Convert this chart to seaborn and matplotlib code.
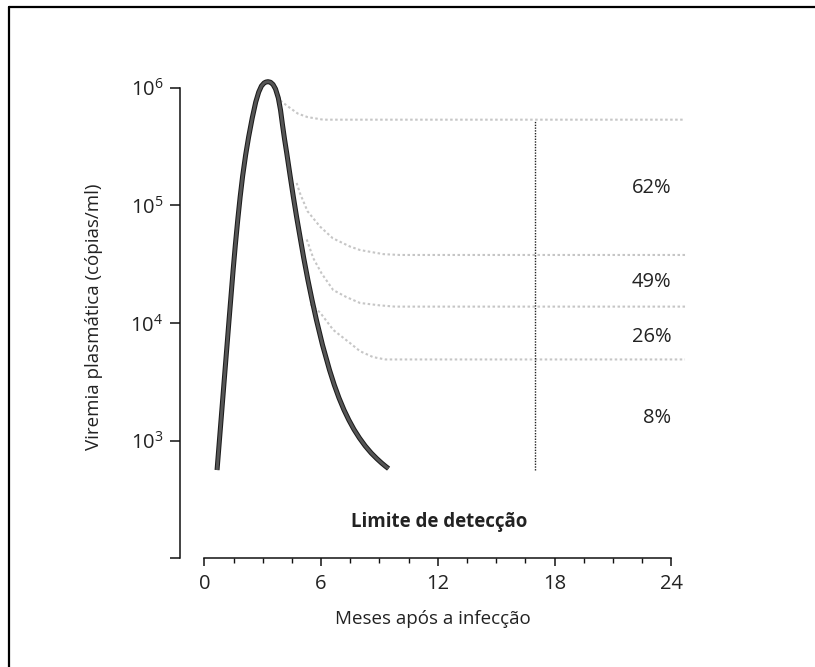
import numpy as np
import pandas as pd
import matplotlib
matplotlib.use("Agg")
import matplotlib.pyplot as plt
import matplotlib.patheffects as pe
from matplotlib.lines import Line2D
from matplotlib.ticker import FixedLocator, NullLocator
import seaborn as sns


# Primary infection peak (months, log10 copies/ml)
PEAK_MONTHS = [0.652, 0.858, 1.063, 1.269, 1.479, 1.592, 1.715, 1.839, 1.967, 2.121,
               2.275, 2.460, 2.640, 2.794, 2.933, 3.071, 3.169, 3.272, 3.400, 3.529,
               3.657, 3.801, 3.914, 4.016, 4.119, 4.232, 4.401, 4.571, 4.740, 4.915,
               5.105, 5.321, 5.532, 5.758, 6.071, 6.430, 6.677, 6.918, 7.175, 7.422,
               7.689, 7.966, 8.264, 8.572, 8.855, 9.106, 9.302, 9.466]
PEAK_LOG = [2.750, 3.176, 3.601, 4.026, 4.451, 4.663, 4.875, 5.071, 5.249, 5.428,
            5.581, 5.742, 5.878, 5.963, 6.014, 6.040, 6.048, 6.051, 6.046, 6.027,
            5.989, 5.912, 5.810, 5.683, 5.564, 5.445, 5.258, 5.074, 4.901, 4.734,
            4.553, 4.365, 4.196, 4.026, 3.813, 3.601, 3.473, 3.363, 3.261, 3.176,
            3.095, 3.023, 2.955, 2.895, 2.848, 2.810, 2.783, 2.762]

# Set-point curves (dotted gray)
SET_62_MONTHS = [3.9, 4.3, 4.8, 5.3, 6.1, 24.7]
SET_62_LOG = [5.89, 5.84, 5.78, 5.75, 5.728, 5.728]

SET_49_MONTHS = [4.74, 4.92, 5.3, 5.94, 6.6, 7.48, 8.0, 9.2, 10.05, 24.7]
SET_49_LOG = [5.19, 5.10, 4.95, 4.82, 4.72, 4.65, 4.62, 4.585, 4.578, 4.578]

SET_26_MONTHS = [5.26, 5.6, 6.03, 6.62, 7.3, 8.0, 9.0, 9.8, 24.7]
SET_26_LOG = [4.71, 4.55, 4.42, 4.28, 4.22, 4.17, 4.15, 4.139, 4.139]

SET_8_MONTHS = [5.45, 5.94, 6.63, 7.48, 8.0, 8.67, 9.3, 24.7]
SET_8_LOG = [4.16, 4.09, 3.94, 3.83, 3.76, 3.71, 3.69, 3.69]

PERCENT_LABELS = ["62%", "49%", "26%", "8%"]
PERCENT_LOG_Y = [5.145, 4.351, 3.884, 3.193]

# 17-month marker line
MARKER_MONTH = 17.0
MARKER_LOG_RANGE = [2.75, 5.725]

X_TICKS = [0, 6, 12, 18, 24]
Y_TICKS = [1e2, 1e3, 1e4, 1e5, 1e6]
Y_TICK_LABELS = ["", r"$\mathregular{10^3}$", r"$\mathregular{10^4}$",
                 r"$\mathregular{10^5}$", r"$\mathregular{10^6}$"]

TEXT_COLOR = "#222222"


def build_frame(months, log_values, name):
    return pd.DataFrame({
        "mes": months,
        "viremia": 10.0 ** np.asarray(log_values),
        "curva": name,
    })


def draw_chart():
    sns.set_theme(style="white")
    plt.rcParams["font.family"] = ["Open Sans", "DejaVu Sans"]

    fig = plt.figure(figsize=(8.15, 6.67), dpi=100)
    ax = fig.add_axes([0.2209, 0.1630, 0.6208, 0.7232])
    ax.set_yscale("log")

    # Set-point curves
    plateaus = pd.concat([
        build_frame(SET_62_MONTHS, SET_62_LOG, "62"),
        build_frame(SET_49_MONTHS, SET_49_LOG, "49"),
        build_frame(SET_26_MONTHS, SET_26_LOG, "26"),
        build_frame(SET_8_MONTHS, SET_8_LOG, "8"),
    ], ignore_index=True)
    sns.lineplot(data=plateaus, x="mes", y="viremia", units="curva",
                 estimator=None, sort=False, color="#c6c6c6", lw=1.5,
                 linestyle=(0, (1.2, 1.2)), ax=ax)

    # Vertical marker
    marker = build_frame([MARKER_MONTH, MARKER_MONTH], MARKER_LOG_RANGE, "marca")
    sns.lineplot(data=marker, x="mes", y="viremia", estimator=None, sort=False,
                 color="#222222", lw=1.0, linestyle=(0, (1, 1)), ax=ax)

    # Primary peak
    peak = build_frame(PEAK_MONTHS, PEAK_LOG, "pico")
    sns.lineplot(data=peak, x="mes", y="viremia", estimator=None, sort=False,
                 color="#555555", lw=2.1, ax=ax,
                 path_effects=[pe.Stroke(linewidth=3.6, foreground="#1c1c1c"), pe.Normal()])
    peak_line = ax.get_lines()[-1]
    peak_line.set_solid_capstyle("butt")
    peak_line.set_solid_joinstyle("round")

    for label, log_y in zip(PERCENT_LABELS, PERCENT_LOG_Y):
        ax.text(24, 10 ** log_y, label, ha="right", va="center",
                fontsize=14.5, color=TEXT_COLOR)

    ax.text(12.08, 10 ** 2.31, "Limite de detecção", ha="center", va="center",
            fontsize=13.5, fontweight="bold", color=TEXT_COLOR)

    # Axes styling
    ax.set_xlim(-1.25, 24.75)
    ax.set_ylim(1e2, 10 ** 6.1)
    for side in ["top", "right"]:
        ax.spines[side].set_visible(False)
    ax.spines["left"].set_bounds(1e2, 1e6)
    ax.spines["bottom"].set_bounds(0, 24)
    for side in ["left", "bottom"]:
        ax.spines[side].set_color("#111111")
        ax.spines[side].set_linewidth(1.1)

    ax.xaxis.set_major_locator(FixedLocator(X_TICKS))
    ax.xaxis.set_minor_locator(FixedLocator(np.arange(1.5, 24, 1.5)))
    ax.yaxis.set_major_locator(FixedLocator(Y_TICKS))
    ax.yaxis.set_minor_locator(NullLocator())
    ax.set_yticklabels(Y_TICK_LABELS)

    ax.tick_params(axis="x", which="major", direction="out", length=6, width=1.1,
                   color="#111111", labelsize=14.5, labelcolor=TEXT_COLOR, pad=5, bottom=True)
    ax.tick_params(axis="x", which="minor", direction="out", length=3.5, width=1.0,
                   color="#111111", bottom=True)
    ax.tick_params(axis="y", which="major", direction="out", length=7, width=1.1,
                   color="#111111", labelsize=14.5, labelcolor=TEXT_COLOR, pad=5, left=True)

    ax.set_xlabel("Meses após a infecção", fontsize=13.5, color=TEXT_COLOR, labelpad=12)
    ax.set_ylabel("Viremia plasmática (cópias/ml)", fontsize=13.5, color=TEXT_COLOR,
                  labelpad=20)

    # Page frame (left and top edges)
    fig.add_artist(Line2D([9 / 815, 9 / 815], [0, 1 - 6.7 / 667], transform=fig.transFigure,
                          color="black", lw=1.6))
    fig.add_artist(Line2D([9 / 815, 1], [1 - 6.7 / 667, 1 - 6.7 / 667], transform=fig.transFigure,
                          color="black", lw=1.6))

    fig.savefig("out.png", dpi=100)


def main():
    draw_chart()


if __name__ == "__main__":
    main()
